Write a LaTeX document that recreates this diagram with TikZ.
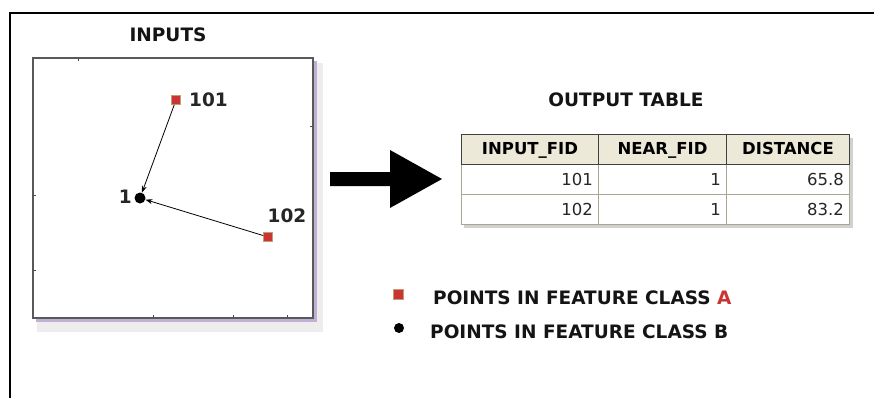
\documentclass[tikz,border=0pt]{standalone}
\usepackage{fontspec}
\setmainfont{DejaVu Sans}
\usetikzlibrary{arrows.meta}
\definecolor{ptred}{RGB}{204,51,51}
\definecolor{ptedge}{RGB}{190,160,110}
\definecolor{hdrfill}{RGB}{236,233,216}
\definecolor{gridc}{RGB}{172,165,150}
\definecolor{shadowpurple}{RGB}{192,176,212}
\tikzset{
  title/.style={font=\bfseries\fontsize{18.5}{20}\selectfont, inner sep=0pt, text=black!92},
  maplabel/.style={font=\bfseries\fontsize{18.5}{20}\selectfont, inner sep=0pt, text=black!85},
  ptA/.style={rectangle, fill=ptred, draw=ptedge, line width=0.6pt, minimum size=9pt, inner sep=0pt},
  ptB/.style={circle, fill=black, minimum size=11pt, inner sep=0pt},
  hdr/.style={rectangle, fill=hdrfill, draw=black!75, line width=1pt, minimum height=30pt,
    text height=12pt, text depth=2pt,
    font=\bfseries\fontsize{16.5}{18}\selectfont, inner sep=0pt, anchor=north west},
  datum/.style={font=\fontsize{16.5}{18}\selectfont, inner sep=0pt, anchor=east, text=black!85},
  link/.style={-{Stealth[length=7pt,width=5pt]}, line width=0.8pt},
  tick/.style={black!70, line width=1pt},
}
\begin{document}
\begin{tikzpicture}[x=1pt,y=-1pt]
\useasboundingbox (0,0) rectangle (874,398);
\fill[white] (0,0) rectangle (874,398);
% outer frame
\draw[line width=2pt] (874,13) -- (10,13) -- (10,398);

% titles
\node[title] (inputs) at (168,35) {INPUTS};
\node[title] (outtitle) at (626,100) {OUTPUT TABLE};

% input map box with shadow
\fill[black!7] (37,63) rectangle (323,332);
\fill[shadowpurple] (36,61) rectangle (317,322);
\draw[fill=white, draw=black!65, line width=2pt] (33,58) rectangle (313,318);
\draw[tick] (78,58) -- (78,61);
\draw[tick] (313,127) -- (310,127);
\draw[tick] (33,195) -- (36,195);
\draw[tick] (33,270) -- (36,270);
\draw[tick] (153,318) -- (153,315);
\draw[tick] (233,318) -- (233,315);
\draw[tick] (287,318) -- (287,315);

% points
\node[ptA] (a101) at (176,100) {};
\node[ptB] (b1) at (140,198) {};
\node[ptA] (a102) at (268,237) {};
\node[maplabel, anchor=west] (l101) at (189,100) {101};
\node[maplabel, anchor=east] (l1) at (132,197) {1};
\node[maplabel] (l102) at (287,216) {102};
\draw[link] (a101) -- (b1);
\draw[link] (a102) -- (b1);

% big arrow
\fill (330,172) -- (390,172) -- (390,150) -- (442,179) -- (390,208) -- (390,186) -- (330,186) -- cycle;

% table shadow and body
\fill[black!18] (464,138) rectangle (853,228);
\fill[white] (461,164) rectangle (849,224);
\draw[gridc, line width=1pt] (461,164) rectangle (849,224);
\draw[gridc, line width=1pt] (461,194) -- (849,194);
\draw[gridc, line width=1pt] (598,164) -- (598,224);
\draw[gridc, line width=1pt] (726,164) -- (726,224);

% header
\node[hdr, minimum width=137pt] (h1) at (461,134) {INPUT\_FID};
\node[hdr, minimum width=128pt] (h2) at (598,134) {NEAR\_FID};
\node[hdr, minimum width=123pt] (h3) at (726,134) {DISTANCE};

% data
\node[datum] (d11) at (593,179) {101};
\node[datum] (d12) at (721,179) {1};
\node[datum] (d13) at (844,179) {65.8};
\node[datum] (d21) at (593,209) {102};
\node[datum] (d22) at (721,209) {1};
\node[datum] (d23) at (844,209) {83.2};

% legend
\node[ptA, minimum size=10pt] (legA) at (398,294) {};
\node[title, anchor=west] (txtA) at (433,298) {POINTS IN FEATURE CLASS \textcolor{ptred}{A}};
\node[ptB, minimum size=10pt] (legB) at (399,328) {};
\node[title, anchor=west] (txtB) at (430,332) {POINTS IN FEATURE CLASS B};
\end{tikzpicture}
\end{document}
